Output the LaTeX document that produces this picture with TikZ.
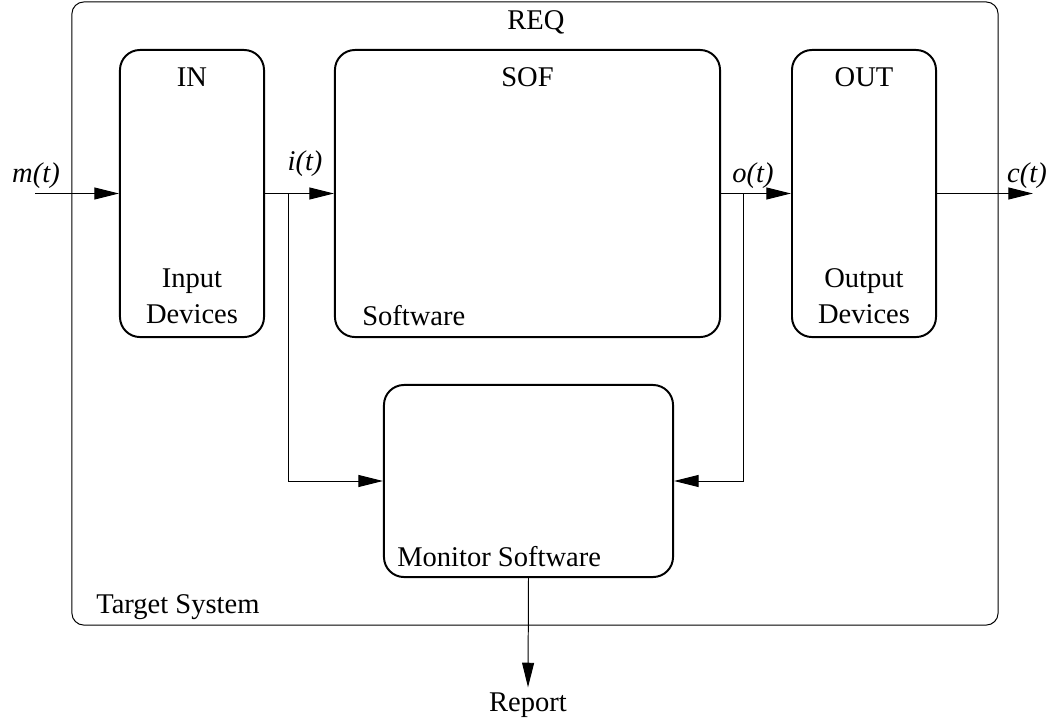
\documentclass[tikz,border=0pt]{standalone}
\usepackage{fontspec}
\setmainfont{Liberation Serif}
\usetikzlibrary{arrows.meta, positioning}

\begin{document}
\begin{tikzpicture}[x=0.025cm, y=-0.025cm,
		every node/.style={font=\fontsize{20.3}{25}\selectfont},
		blk/.style={draw, line width=1.4pt, rounded corners=0.5cm, inner sep=0pt},
		sig/.style={line width=0.7pt, -{Triangle[length=17.5pt,width=8.5pt]}},
		lbl/.style={anchor=base, inner sep=0pt}]
		\useasboundingbox (0,0) rectangle (1054,719);

		% Target system
		\node[draw, line width=0.7pt, rounded corners=0.3cm, inner sep=0pt,
			minimum width=23.15cm, minimum height=15.575cm] (target) at (535,313.5) {};
		\node[lbl] (req) at (536,29) {REQ};
		\node[lbl, anchor=base west] (targetB) at (96,613) {Target System};

		% Blocks
		\node[blk, minimum width=3.6cm, minimum height=7.175cm] (in) at (192,193.5) {};
		\node[blk, minimum width=9.625cm, minimum height=7.175cm] (sof) at (527.5,193.5) {};
		\node[blk, minimum width=3.6cm, minimum height=7.175cm] (out) at (864,193.5) {};
		\node[blk, minimum width=7.225cm, minimum height=4.8cm] (mon) at (528.5,481) {};

		\node[lbl] (inT) at (192,86) {IN};
		\node[lbl] (sofT) at (527.5,86) {SOF};
		\node[lbl] (outT) at (864,86) {OUT};
		\node[lbl, align=center] (inB) at (192,323) {Input\\Devices};
		\node[lbl, anchor=base west] (sofB) at (362,325) {Software};
		\node[lbl, align=center] (outB) at (864,323) {Output\\Devices};
		\node[lbl, anchor=base west] (monB) at (397,566) {Monitor Software};

		% Signals
		\coordinate (mStart) at (35,193.5);
		\coordinate (cEnd) at (1033,193.5);
		\coordinate (iTap) at (288,193.5);
		\coordinate (oTap) at (743,193.5);
		\draw[sig] (mStart) -- (in.west);
		\draw[sig] (in.east) -- (sof.west);
		\draw[sig] (sof.east) -- (out.west);
		\draw[sig] (out.east) -- (cEnd);
		\draw[sig] (iTap) |- (mon.west);
		\draw[sig] (oTap) |- (mon.east);
		\node[lbl] (mLbl) at (36,182) {\textit{m(t)}};
		\node[lbl] (iLbl) at (305,170) {\textit{i(t)}};
		\node[lbl] (oLbl) at (753,182) {\textit{o(t)}};
		\node[lbl] (cLbl) at (1027,182) {\textit{c(t)}};

		% Report
		\node[anchor=base] (report) at (528,711) {Report};
		\draw[sig] (mon.south) -- (report.north);
	\end{tikzpicture}
\end{document}
